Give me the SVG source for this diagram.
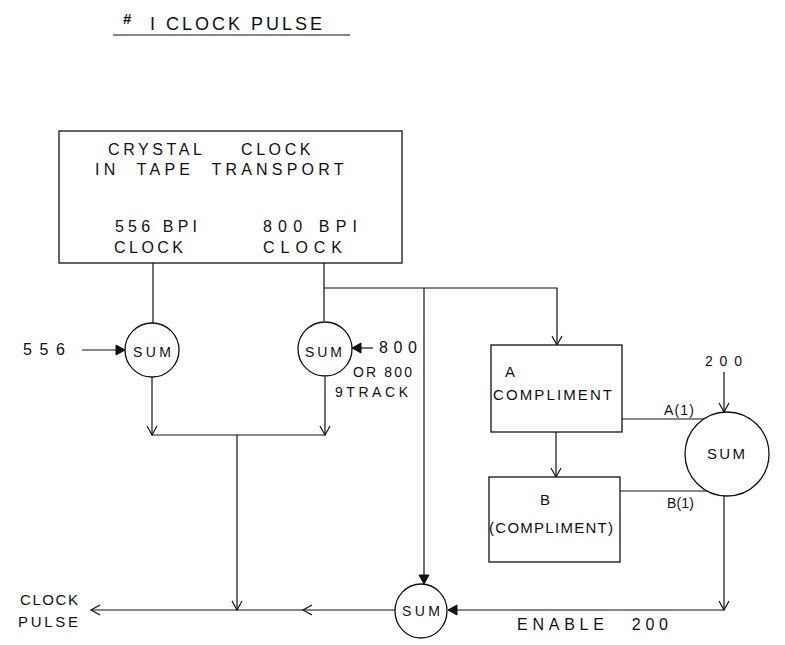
<svg xmlns="http://www.w3.org/2000/svg" width="785" height="645" viewBox="0 0 785 645">
<style>
text{font-family:"Liberation Sans","DejaVu Sans",sans-serif;fill:#111;}
.t16{font-size:16px;}
.t14{font-size:14px;}
.t15{font-size:15px;}
.ln{fill:none;stroke:#111;stroke-width:1.2;}
.shape{fill:#fff;stroke:#111;stroke-width:1.3;}
</style>
<defs>
<marker id="open" markerUnits="userSpaceOnUse" markerWidth="12" markerHeight="12" refX="9" refY="5" orient="auto" overflow="visible">
<path d="M0,0 L9,5 L0,10" fill="none" stroke="#111" stroke-width="1.2"/>
</marker>
<marker id="fill" markerUnits="userSpaceOnUse" markerWidth="12" markerHeight="12" refX="9" refY="5" orient="auto" overflow="visible">
<path d="M0,0 L9,5 L0,10 Z" fill="#111" stroke="#111" stroke-width="1"/>
</marker>
</defs>
<rect width="785" height="645" fill="#fff"/>

<g id="title">
<text x="123" y="24" font-size="15" font-weight="bold">#</text>
<text x="150" y="30" font-size="18" textLength="172" lengthAdjust="spacing">I CLOCK PULSE</text>
<line class="ln" x1="113" y1="35" x2="350" y2="35"/>
</g>

<g id="connectors">
<path class="ln" d="M153,263 V323"/>
<path class="ln" d="M324,263 V321"/>
<path class="ln" d="M324,288 H557 V345" marker-end="url(#open)"/>
<path class="ln" d="M424,288 V584" marker-end="url(#fill)"/>
<path class="ln" d="M82,350 H125" marker-end="url(#fill)"/>
<path class="ln" d="M373,348 H352" marker-end="url(#fill)"/>
<path class="ln" d="M152,377 V435" marker-end="url(#open)"/>
<path class="ln" d="M325,377 V435" marker-end="url(#open)"/>
<path class="ln" d="M152,435 H325"/>
<path class="ln" d="M237,435 V610" marker-end="url(#open)"/>
<path class="ln" d="M395,610 L303,610 L91,610" marker-mid="url(#open)" marker-end="url(#open)"/>
<path class="ln" d="M724,372 V412" marker-end="url(#open)"/>
<path class="ln" d="M556,432 V477" marker-end="url(#open)"/>
<path class="ln" d="M622,419 H704"/>
<path class="ln" d="M620,491 H707"/>
<path class="ln" d="M724,496 V610" marker-end="url(#open)"/>
<path class="ln" d="M724,610 H448" marker-end="url(#fill)"/>
</g>

<g id="crystal-clock">
<rect class="shape" x="59" y="131" width="343" height="132"/>
<text class="t16" x="108" y="155" letter-spacing="3.6" word-spacing="28">CRYSTAL CLOCK</text>
<text class="t16" x="95" y="175" letter-spacing="4.2" word-spacing="9">IN TAPE TRANSPORT</text>
<text class="t16" x="115" y="232" textLength="82" lengthAdjust="spacing">556 BPI</text>
<text class="t16" x="114" y="253" textLength="69" lengthAdjust="spacing">CLOCK</text>
<text class="t16" x="263" y="232" textLength="94" lengthAdjust="spacing">800 BPI</text>
<text class="t16" x="263" y="253" textLength="79" lengthAdjust="spacing">CLOCK</text>
</g>

<g id="sum1">
<circle class="shape" cx="152" cy="350" r="27"/>
<text class="t14" x="133" y="357" textLength="38" lengthAdjust="spacing">SUM</text>
</g>

<g id="label-556">
<text class="t16" x="23" y="355" textLength="42" lengthAdjust="spacing">556</text>
</g>

<g id="sum2">
<circle class="shape" cx="325" cy="349" r="27"/>
<text class="t14" x="305" y="357" textLength="37" lengthAdjust="spacing">SUM</text>
</g>

<g id="label-800">
<text class="t16" x="379" y="353" textLength="38" lengthAdjust="spacing">800</text>
<text class="t14" x="353" y="377" textLength="59" lengthAdjust="spacing">OR 800</text>
<text class="t14" x="335" y="397" textLength="73" lengthAdjust="spacing">9TRACK</text>
</g>

<g id="a-compliment">
<rect class="shape" x="491" y="345" width="131" height="87"/>
<text class="t15" x="505" y="377">A</text>
<text class="t15" x="493" y="400" textLength="119" lengthAdjust="spacing">COMPLIMENT</text>
</g>

<g id="b-compliment">
<rect class="shape" x="489" y="477" width="131" height="85"/>
<text class="t15" x="540" y="505">B</text>
<text class="t15" x="489" y="533" textLength="124" lengthAdjust="spacing">(COMPLIMENT)</text>
</g>

<g id="sum-right">
<circle class="shape" cx="727" cy="454" r="42"/>
<text class="t15" x="707" y="459" textLength="38" lengthAdjust="spacing">SUM</text>
</g>

<g id="labels-right">
<text class="t14" x="705" y="366" textLength="37" lengthAdjust="spacing">200</text>
<text class="t14" x="664" y="415" textLength="30" lengthAdjust="spacing">A(1)</text>
<text class="t14" x="667" y="508" textLength="27" lengthAdjust="spacing">B(1)</text>
</g>

<g id="sum-bottom">
<ellipse class="shape" cx="421" cy="611" rx="26" ry="27"/>
<text class="t14" x="402" y="616" textLength="38" lengthAdjust="spacing">SUM</text>
</g>

<g id="label-enable">
<text class="t16" x="517" y="630" textLength="151" lengthAdjust="spacing" word-spacing="14">ENABLE 200</text>
</g>

<g id="label-clock-pulse">
<text class="t15" x="20" y="605" textLength="58" lengthAdjust="spacing">CLOCK</text>
<text class="t15" x="18" y="627" textLength="60" lengthAdjust="spacing">PULSE</text>
</g>
</svg>
